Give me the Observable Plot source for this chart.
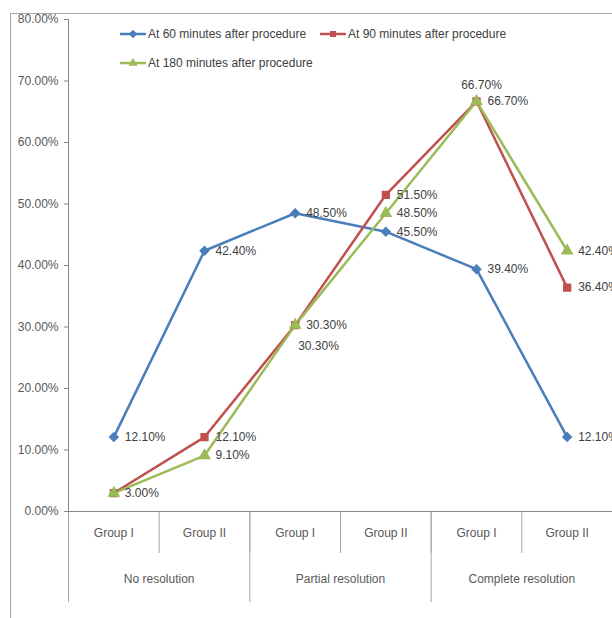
<!DOCTYPE html>
<html><head><meta charset="utf-8">
<script src="https://cdn.jsdelivr.net/npm/d3@7"></script>
<script src="https://cdn.jsdelivr.net/npm/@observablehq/plot@0.6"></script>
<style>
body{margin:0;background:#fff;}
#wrap{position:relative;width:612px;height:618px;overflow:hidden;font-family:"Liberation Sans",Arial,sans-serif;}
#border{position:absolute;left:10px;top:13px;width:700px;height:700px;border:1px solid #a6a6a6;box-sizing:border-box;}
#chart{position:absolute;left:0;top:0;}
.leg{position:absolute;font-size:12px;color:#404040;display:flex;align-items:center;white-space:nowrap;}
.leg svg{margin-right:2px;}
</style>
</head><body>
<div id="wrap"><div id="border"></div><div id="chart"></div><div id="legend"></div></div>
<script>
// ---- data ----
const categories = ["Group I", "Group II", "Group I", "Group II", "Group I", "Group II"];
const groups = ["No resolution", "Partial resolution", "Complete resolution"];
const series = ["At 60 minutes after procedure", "At 90 minutes after procedure", "At 180 minutes after procedure"];
const at60 = [12.1, 42.4, 48.5, 45.5, 39.4, 12.1];
const at90 = [3.0, 12.1, 30.3, 51.5, 66.7, 36.4];
const at180 = [3.0, 9.1, 30.3, 48.5, 66.7, 42.4];
const yTicks = [0, 10, 20, 30, 40, 50, 60, 70, 80];

const colors = ["#4a7ebb", "#c0504d", "#9bbb59"];
const symbols = ["diamond2", "square", "triangle"];
const values = [at60, at90, at180];
const rows = [];
values.forEach((arr, s) => arr.forEach((v, i) => rows.push({series: series[s], s, i, value: v})));

const font = '"Liberation Sans",Arial,sans-serif';
const fmt = d => d.value.toFixed(2) + "%";
const isSpecial = d => d.s === 2 && (d.i === 0 || d.i === 2 || d.i === 4);

const chart = Plot.plot({
  width: 612, height: 618,
  marginLeft: 68, marginRight: 0, marginTop: 19, marginBottom: 107,
  x: {type: "linear", domain: [0, 6]},
  y: {domain: [0, 80]},
  color: {domain: series, range: colors},
  symbol: {domain: series, range: symbols},
  style: {fontFamily: font, fontSize: "12px", color: "#595959", background: "transparent", overflow: "visible"},
  marks: [
    Plot.axisY({ticks: yTicks, tickFormat: d => d.toFixed(2) + "%", tickSize: 4, tickPadding: 6, stroke: "#868686", label: null, fill: "#595959"}),
    Plot.axisX({ticks: d3.range(0, 7), tickSize: 42, tickFormat: () => "", stroke: "#a6a6a6", label: null}),
    Plot.axisX({ticks: [0, 2, 4, 6], tickSize: 91, tickFormat: () => "", stroke: "#a6a6a6", label: null}),
    Plot.axisX({ticks: categories.map((c, i) => i + 0.5), tickSize: 0, tickPadding: 17, tickFormat: d => categories[Math.floor(d)], label: null, fill: "#595959"}),
    Plot.axisX({ticks: groups.map((g, i) => i * 2 + 1), tickSize: 0, tickPadding: 63, tickFormat: d => groups[(d - 1) / 2], label: null, fill: "#595959"}),
    Plot.ruleX([0], {stroke: "#868686"}),
    Plot.ruleY([0], {stroke: "#868686"}),
    Plot.line(rows, {x: d => d.i + 0.5, y: "value", z: "series", stroke: "series", strokeWidth: 2.5}),
    Plot.dot(rows, {x: d => d.i + 0.5, y: "value", symbol: "series", fill: "series", stroke: "series", r: 3.8}),
    Plot.text(rows.filter(d => !isSpecial(d)), {x: d => d.i + 0.5, y: "value", text: fmt, dx: 11, textAnchor: "start", fill: "#404040"}),
    Plot.text(rows.filter(d => d.s === 2 && d.i === 2), {x: d => d.i + 0.5, y: "value", text: fmt, dx: 3, dy: 21, textAnchor: "start", fill: "#404040"}),
    Plot.text(rows.filter(d => d.s === 2 && d.i === 4), {x: d => d.i + 0.5, y: "value", text: fmt, dx: 5, dy: -16, textAnchor: "middle", fill: "#404040"})
  ]
});
document.getElementById("chart").appendChild(chart);

// ---- legend ----
const legPos = [[120, 34], [320, 34], [120, 63]];
const leg = d3.select("#legend");
series.forEach((name, s) => {
  const item = leg.append("div").attr("class", "leg")
    .style("left", legPos[s][0] + "px").style("top", (legPos[s][1] - 9) + "px").style("height", "18px");
  const svg = item.append("svg").attr("width", 26).attr("height", 12);
  svg.append("line").attr("x1", 0).attr("x2", 26).attr("y1", 6).attr("y2", 6).attr("stroke", colors[s]).attr("stroke-width", 2.5);
  svg.append("path").attr("transform", "translate(13,6)" + (s === 0 ? " rotate(45)" : "")).attr("d", d3.symbol(s === 2 ? d3.symbolTriangle : d3.symbolSquare, 36)()).attr("fill", colors[s]);
  item.append("span").text(name);
});
</script>
</body></html>
